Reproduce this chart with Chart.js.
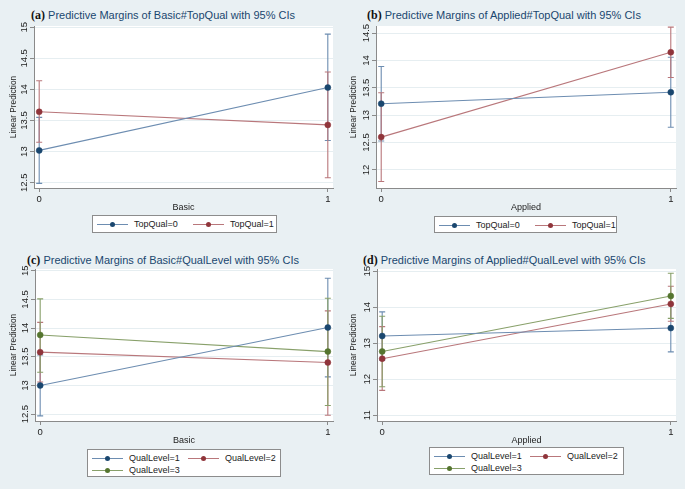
<!DOCTYPE html>
<html>
<head>
<meta charset="utf-8">
<script src="https://cdn.jsdelivr.net/npm/chart.js@4.4.1/dist/chart.umd.min.js"></script>
<style>
  body { margin: 0; background: #e9f0f3; font-family: "Liberation Sans", Arial, sans-serif; }
  #wrap { position: relative; width: 685px; height: 489px; overflow: hidden; }
  canvas { position: absolute; }
  .ttl { position: absolute; font-size: 11px; color: #1a476f; white-space: nowrap; line-height: 14px; }
  .ttl b { font-family: "Liberation Serif", "DejaVu Serif", serif; font-size: 12px; color: #111; }
  .leg { position: absolute; background: #fff; border: 1px solid #8c8c8c; font-size: 9px; color: #222;
         display: grid; grid-template-columns: 96px auto; padding: 3px 4px; row-gap: 2px; box-sizing: border-box; }
  .it { display: flex; align-items: center; white-space: nowrap; height: 10px; }
  .sym { position: relative; width: 31px; height: 8px; margin-right: 6px; }
  .sym i { position: absolute; left: 0; right: 0; top: 4px; height: 1px; }
  .sym em { position: absolute; left: 13px; top: 2px; width: 5px; height: 5px; border-radius: 50%; }
</style>
</head>
<body>
<div id="wrap">
  <div class="ttl" style="left:31px;top:8px"><b>(a)</b> Predictive Margins of Basic#TopQual with 95% CIs</div>
  <div class="ttl" style="left:367px;top:8px"><b>(b)</b> Predictive Margins of Applied#TopQual with 95% CIs</div>
  <div class="ttl" style="left:27px;top:253px"><b>(c)</b> Predictive Margins of Basic#QualLevel with 95% CIs</div>
  <div class="ttl" style="left:363px;top:253px"><b>(d)</b> Predictive Margins of Applied#QualLevel with 95% CIs</div>

  <canvas id="chartA" width="340" height="196" style="left:0;top:20px"></canvas>
  <canvas id="chartB" width="345" height="196" style="left:340px;top:20px"></canvas>
  <canvas id="chartC" width="340" height="186" style="left:0;top:263px"></canvas>
  <canvas id="chartD" width="345" height="186" style="left:340px;top:263px"></canvas>

  <div class="leg" id="legA" style="left:92px;top:215px;width:185px;height:18px"></div>
  <div class="leg" id="legB" style="left:434px;top:216px;width:183px;height:17px"></div>
  <div class="leg" id="legC" style="left:87px;top:449px;width:194px;height:28px"></div>
  <div class="leg" id="legD" style="left:429px;top:447px;width:195px;height:28px"></div>
</div>

<script>
// valores (margens previstas e IC 95%)
const xCats = [0, 1];

const topQualLabels = ['TopQual=0', 'TopQual=1'];
const qualLevelLabels = ['QualLevel=1', 'QualLevel=2', 'QualLevel=3'];

// (a) Basic#TopQual
const aTop0 = [13.02, 14.03];
const aTop0Lo = [12.49, 13.18];
const aTop0Hi = [13.55, 14.89];
const aTop1 = [13.64, 13.43];
const aTop1Lo = [13.15, 12.58];
const aTop1Hi = [14.14, 14.28];
const aTicks = [12.5, 13, 13.5, 14, 14.5, 15];

// (b) Applied#TopQual
const bTop0 = [13.21, 13.42];
const bTop0Lo = [12.53, 12.78];
const bTop0Hi = [13.89, 14.06];
const bTop1 = [12.60, 14.15];
const bTop1Lo = [11.79, 13.69];
const bTop1Hi = [13.41, 14.61];
const bTicks = [12, 12.5, 13, 13.5, 14, 14.5];

// (c) Basic#QualLevel
const cQual1 = [13.00, 14.01];
const cQual1Lo = [12.47, 13.15];
const cQual1Hi = [13.53, 14.87];
const cQual2 = [13.58, 13.40];
const cQual2Lo = [13.06, 12.48];
const cQual2Hi = [14.10, 14.30];
const cQual3 = [13.88, 13.59];
const cQual3Lo = [13.23, 12.65];
const cQual3Hi = [14.51, 14.52];
const cTicks = [12.5, 13, 13.5, 14, 14.5, 15];

// (d) Applied#QualLevel
const dQual1 = [13.20, 13.42];
const dQual1Lo = [12.53, 12.76];
const dQual1Hi = [13.87, 14.08];
const dQual2 = [12.57, 14.09];
const dQual2Lo = [11.69, 13.61];
const dQual2Hi = [13.46, 14.58];
const dQual3 = [12.77, 14.31];
const dQual3Lo = [11.79, 13.69];
const dQual3Hi = [13.75, 14.94];
const dTicks = [11, 12, 13, 14, 15];

// cores do Stata (s2color)
const navy = '#1a476f', maroon = '#90353b', green = '#55752f';
const navyLine = '#6d8db1', maroonLine = '#b9777b', greenLine = '#88a06a';

Chart.defaults.font.family = '"Liberation Sans", Arial, sans-serif';
Chart.defaults.color = '#222';

// fundo branco da área do gráfico
const plotBg = {
  id: 'plotBg',
  beforeDraw(chart) {
    const { ctx, chartArea: a } = chart;
    ctx.save();
    ctx.fillStyle = '#ffffff';
    ctx.fillRect(a.left, a.top, a.right - a.left, a.bottom - a.top);
    ctx.restore();
  }
};

// barras de IC
const ciBars = {
  id: 'ciBars',
  beforeDatasetsDraw(chart) {
    const { ctx, scales: { x, y } } = chart;
    ctx.save();
    ctx.lineWidth = 1.1;
    chart.data.datasets.forEach(ds => {
      ctx.strokeStyle = ds.borderColor;
      xCats.forEach((v, i) => {
        const px = x.getPixelForValue(v);
        const top = y.getPixelForValue(ds.hi[i]);
        const bot = y.getPixelForValue(ds.lo[i]);
        ctx.beginPath();
        ctx.moveTo(px, top); ctx.lineTo(px, bot);
        ctx.moveTo(px - 3, top); ctx.lineTo(px + 3, top);
        ctx.moveTo(px - 3, bot); ctx.lineTo(px + 3, bot);
        ctx.stroke();
      });
    });
    ctx.restore();
  }
};

// rótulos do eixo y na vertical, como no Stata
const yLabels = {
  id: 'yLabels',
  afterDraw(chart) {
    const { ctx, scales: { y } } = chart;
    ctx.save();
    ctx.font = '9.5px "Liberation Sans", Arial, sans-serif';
    ctx.fillStyle = '#222';
    ctx.textAlign = 'center';
    ctx.textBaseline = 'middle';
    y.ticks.forEach(t => {
      ctx.save();
      ctx.translate(y.right - 10, y.getPixelForValue(t.value));
      ctx.rotate(-Math.PI / 2);
      ctx.fillText(String(t.value), 0, 0);
      ctx.restore();
    });
    ctx.restore();
  }
};

function drawPanel(id, xTitle, yMin, yMax, yTicks, series, box) {
  const ctx = document.getElementById(id).getContext('2d');
  return new Chart(ctx, {
    type: 'line',
    data: {
      datasets: series.map(s => ({
        label: s.label,
        data: xCats.map((x, i) => ({ x: x, y: s.y[i] })),
        lo: s.lo,
        hi: s.hi,
        borderColor: s.line,
        borderWidth: 1.1,
        pointBackgroundColor: s.color,
        pointBorderColor: s.color,
        pointBorderWidth: 0.5,
        pointRadius: 3,
        pointHoverRadius: 3,
        tension: 0
      }))
    },
    options: {
      responsive: false,
      animation: false,
      devicePixelRatio: 1,
      layout: { padding: { top: 6, right: box.padR, bottom: 1, left: 0 } },
      plugins: { legend: { display: false }, tooltip: { enabled: false } },
      scales: {
        x: {
          type: 'linear', min: -0.018, max: 1.018,
          afterBuildTicks: s => { s.ticks = xCats.map(v => ({ value: v })); },
          afterFit: s => { s.height = 27; },
          grid: { drawOnChartArea: false, tickLength: 4, tickColor: '#8a8a8a' },
          border: { color: '#8a8a8a' },
          ticks: { font: { size: 9.5 }, padding: 2 },
          title: { display: true, text: xTitle, font: { size: 9 }, padding: { top: 0, bottom: 2 } }
        },
        y: {
          min: yMin, max: yMax,
          afterBuildTicks: s => { s.ticks = yTicks.map(v => ({ value: v })); },
          afterFit: s => { s.width = box.yW; },
          grid: { color: '#e6eef1', tickLength: 4, tickColor: '#8a8a8a' },
          border: { color: '#8a8a8a' },
          ticks: { display: false },
          title: { display: true, text: 'Linear Prediction', font: { size: 8.3 }, padding: { top: 9, bottom: 0 } }
        }
      }
    },
    plugins: [plotBg, ciBars, yLabels]
  });
}

function makeLegend(id, series) {
  const el = document.getElementById(id);
  series.forEach(s => {
    const it = document.createElement('div');
    it.className = 'it';
    it.innerHTML = '<span class="sym"><i style="background:' + s.line + '"></i><em style="background:' + s.color + '"></em></span>';
    it.appendChild(document.createTextNode(s.label));
    el.appendChild(it);
  });
}

const seriesA = [
  { label: topQualLabels[0], y: aTop0, lo: aTop0Lo, hi: aTop0Hi, color: navy, line: navyLine },
  { label: topQualLabels[1], y: aTop1, lo: aTop1Lo, hi: aTop1Hi, color: maroon, line: maroonLine }
];
const seriesB = [
  { label: topQualLabels[0], y: bTop0, lo: bTop0Lo, hi: bTop0Hi, color: navy, line: navyLine },
  { label: topQualLabels[1], y: bTop1, lo: bTop1Lo, hi: bTop1Hi, color: maroon, line: maroonLine }
];
const seriesC = [
  { label: qualLevelLabels[0], y: cQual1, lo: cQual1Lo, hi: cQual1Hi, color: navy, line: navyLine },
  { label: qualLevelLabels[1], y: cQual2, lo: cQual2Lo, hi: cQual2Hi, color: maroon, line: maroonLine },
  { label: qualLevelLabels[2], y: cQual3, lo: cQual3Lo, hi: cQual3Hi, color: green, line: greenLine }
];
const seriesD = [
  { label: qualLevelLabels[0], y: dQual1, lo: dQual1Lo, hi: dQual1Hi, color: navy, line: navyLine },
  { label: qualLevelLabels[1], y: dQual2, lo: dQual2Lo, hi: dQual2Hi, color: maroon, line: maroonLine },
  { label: qualLevelLabels[2], y: dQual3, lo: dQual3Lo, hi: dQual3Hi, color: green, line: greenLine }
];

drawPanel('chartA', 'Basic', 12.415, 15.02, aTicks, seriesA, { yW: 34, padR: 7 });
drawPanel('chartB', 'Applied', 11.67, 14.63, bTicks, seriesB, { yW: 36, padR: 9 });
drawPanel('chartC', 'Basic', 12.38, 15.03, cTicks, seriesC, { yW: 35, padR: 7 });
drawPanel('chartD', 'Applied', 10.84, 15.06, dTicks, seriesD, { yW: 37, padR: 9 });

makeLegend('legA', seriesA);
makeLegend('legB', seriesB);
makeLegend('legC', seriesC);
makeLegend('legD', seriesD);
</script>
</body>
</html>
